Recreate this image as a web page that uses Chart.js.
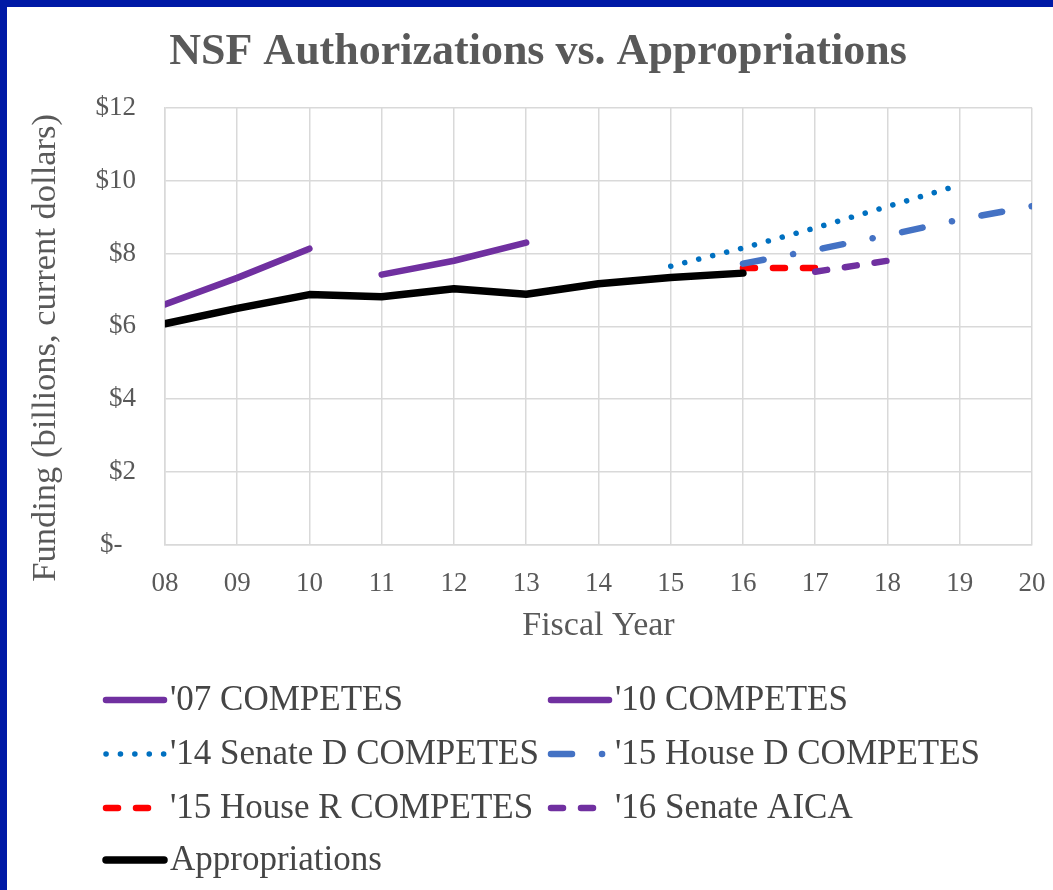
<!DOCTYPE html>
<html>
<head>
<meta charset="utf-8">
<script src="https://cdn.jsdelivr.net/npm/chart.js@4.4.1/dist/chart.umd.min.js"></script>
<style>
  html, body { margin: 0; padding: 0; background: #001AA6; }
  #panel { position: absolute; left: 7px; top: 7px; width: 1046px; height: 883px; background: #fff; }
</style>
</head>
<body>
<div id="panel"><canvas id="chart"></canvas></div>
<script>
// Fiscal years (08 = FY2008) and funding in billions of current dollars
const competes07Years = [8, 9, 10];
const competes07 = [6.6, 7.33, 8.13];

const competes10Years = [11, 12, 13];
const competes10 = [7.42, 7.8, 8.3];

const senate14Years = [15, 16, 17, 18, 19];
const senate14 = [7.65, 8.15, 8.7, 9.29, 9.88];

const houseD15Years = [16, 17, 18, 19, 20];
const houseD15 = [7.72, 8.1, 8.5, 8.93, 9.3];

const houseR15Years = [16, 17];
const houseR15 = [7.6, 7.6];

const aica16Years = [17, 18];
const aica16 = [7.5, 7.8];

const approYears = [8, 9, 10, 11, 12, 13, 14, 15, 16];
const appropriations = [6.07, 6.49, 6.87, 6.81, 7.03, 6.88, 7.17, 7.34, 7.46];

const yTicks = [0, 2, 4, 6, 8, 10, 12];

const SERIF = '"Liberation Serif", "Times New Roman", serif';
const TEXT = '#595959';
const GRID = '#d9d9d9';

const toPoints = (xs, ys) => xs.map((x, i) => ({ x: x, y: ys[i] }));

const series = (label, xs, ys, color, width, dash, order) => ({
  label: label,
  data: toPoints(xs, ys),
  borderColor: color,
  backgroundColor: color,
  borderWidth: width,
  borderDash: dash,
  borderCapStyle: 'round',
  borderJoinStyle: 'round',
  pointRadius: 0,
  pointHoverRadius: 0,
  fill: false,
  order: order
});

// two-column legend drawn under the plot
const LEGEND_COL_X = [96, 541];
const LEGEND_ROW_Y = [693, 747, 801, 853];
const gridLegend = {
  id: 'gridLegend',
  afterDraw(chart) {
    const ctx = chart.ctx;
    chart.data.datasets.forEach((ds, i) => {
      const x = LEGEND_COL_X[i % 2];
      const y = LEGEND_ROW_Y[Math.floor(i / 2)];
      ctx.save();
      ctx.strokeStyle = ds.borderColor;
      ctx.lineWidth = ds.borderWidth;
      ctx.lineCap = 'round';
      ctx.setLineDash(ds.borderDash || []);
      ctx.beginPath();
      ctx.moveTo(x + 3, y);
      ctx.lineTo(x + 61, y);
      ctx.stroke();
      ctx.setLineDash([]);
      ctx.fillStyle = '#454545';
      ctx.font = '35px ' + SERIF;
      ctx.textBaseline = 'middle';
      ctx.fillText(ds.label, x + 67, y + 1);
      ctx.restore();
    });
  }
};

new Chart(document.getElementById('chart'), {
  type: 'line',
  data: {
    datasets: [
      series("'07 COMPETES", competes07Years, competes07, '#7030A0', 6.5, [], 1),
      series("'10 COMPETES", competes10Years, competes10, '#7030A0', 6.5, [], 1),
      series("'14 Senate D COMPETES", senate14Years, senate14, '#0070C0', 5.5, [0.1, 14.3], 1),
      series("'15 House D COMPETES", houseD15Years, houseD15, '#4472C4', 6.5, [21, 30, 0.1, 30], 1),
      series("'15 House R COMPETES", houseR15Years, houseR15, '#FF0000', 6.5, [12, 18], 2),
      series("'16 Senate AICA", aica16Years, aica16, '#7030A0', 6.5, [12, 18], 1),
      series('Appropriations', approYears, appropriations, '#000000', 7.5, [], 0)
    ]
  },
  options: {
    responsive: true,
    maintainAspectRatio: false,
    animation: false,
    layout: { padding: { left: 16, right: 0, top: 0, bottom: 240 } },
    plugins: {
      legend: { display: false },
      tooltip: { enabled: false },
      title: {
        display: true,
        text: 'NSF Authorizations vs. Appropriations',
        color: TEXT,
        font: { family: SERIF, size: 44, weight: 'bold' },
        padding: { top: 19, bottom: 29 }
      }
    },
    scales: {
      x: {
        type: 'linear',
        min: 8,
        max: 20,
        // let the last tick label hang into the margin like the original
        afterFit: scale => { scale.paddingRight = 21; },
        ticks: {
          stepSize: 1,
          color: TEXT,
          font: { family: SERIF, size: 27 },
          padding: 23,
          callback: v => String(v).padStart(2, '0')
        },
        grid: { color: GRID, lineWidth: 1.5, drawTicks: false },
        border: { color: GRID, width: 1.5 },
        title: {
          display: true,
          text: 'Fiscal Year',
          color: TEXT,
          font: { family: SERIF, size: 34 },
          padding: { top: -18, bottom: 4 }
        }
      },
      y: {
        min: 0,
        max: 12,
        afterBuildTicks: axis => { axis.ticks = yTicks.map(v => ({ value: v })); },
        ticks: {
          color: TEXT,
          font: { family: SERIF, size: 27 },
          padding: 29,
          callback: v => v === 0 ? '$-  ' : '$' + v
        },
        grid: { color: GRID, lineWidth: 1.5, drawTicks: false },
        border: { color: GRID, width: 1.5 },
        title: {
          display: true,
          text: 'Funding (billions, current dollars)     ',
          color: TEXT,
          font: { family: SERIF, size: 34.5 },
          padding: { top: 2, bottom: 0 }
        }
      }
    }
  },
  plugins: [gridLegend]
});
</script>
</body>
</html>
